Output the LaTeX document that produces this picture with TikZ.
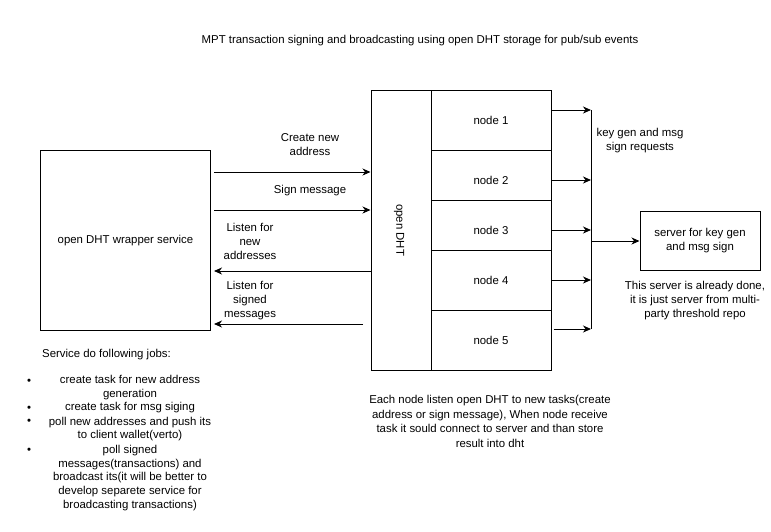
\documentclass[tikz,border=0pt]{standalone}
\usepackage{fontspec}
\setmainfont{Liberation Sans}
\usetikzlibrary{arrows.meta}
\begin{document}
\begin{tikzpicture}[x=1pt,y=-1pt,
  every node/.style={font=\fontsize{11.4pt}{14pt}\selectfont, align=center, inner sep=0pt},
  box/.style={draw, line width=1pt, minimum width=#1},
  conn/.style={line width=1pt, -{Stealth[length=8pt,width=7pt,inset=2.5pt]}},
  plain/.style={line width=1pt}]
\useasboundingbox (0,0) rectangle (771,531);
\fill[white] (0,0) rectangle (771,531);

% title
\node (title) at (420,41) {MPT transaction signing and broadcasting using open DHT storage for pub/sub events};

% wrapper box
\node[box=170, minimum height=180] (wrapper) at (125.5,240.5) {open DHT wrapper service};

% open DHT column
\node[box=60, minimum height=280] (dht) at (401,230) {};
\node[rotate=-90] (dhtlabel) at (399,230) {open DHT};

% node rows
\node[box=120, minimum height=60] (n1) at (491,120) {node 1};
\node[box=120, minimum height=50, label={[yshift=-5pt]center:node 2}] (n2) at (491,175) {};
\node[box=120, minimum height=50, label={[yshift=-5pt]center:node 3}] (n3) at (491,225) {};
\node[box=120, minimum height=60] (n4) at (491,280) {node 4};
\node[box=120, minimum height=60] (n5) at (491,340) {node 5};

% server
\node[box=120, minimum height=59] (server) at (700,240.5) {server for key gen\\and msg sign};

% bus coordinates
\coordinate (b1) at (591,110);
\coordinate (b2) at (591,180);
\coordinate (b3) at (591,230);
\coordinate (b4) at (591,280);
\coordinate (b5) at (591,329);
\coordinate (bs) at (591,241);
\draw[plain] (b1) -- (b5);
\draw[conn] (n1.east |- b1) -- (b1);
\draw[conn] (n2.east |- b2) -- (b2);
\draw[conn] (n3.east |- b3) -- (b3);
\draw[conn] (n4.east |- b4) -- (b4);
\draw[conn] ([xshift=2pt]n5.east |- b5) -- (b5);
\draw[conn] (bs) -- (server.west |- bs);

% left arrows
\coordinate (a1) at (214,172);
\coordinate (a2) at (214,210);
\coordinate (a3) at (214,271);
\coordinate (a4) at (214,324);
\coordinate (a4s) at (363,324);
\draw[conn] (a1) -- (dht.west |- a1);
\draw[conn] (a2) -- (dht.west |- a2);
\draw[conn] (dht.west |- a3) -- (a3);
\draw[conn] (a4s) -- (a4);

% arrow labels
\node (l1) at (310,145) {Create new\\address};
\node (l2) at (310,190.5) {Sign message};
\node (l3) at (250,241) {Listen for\\new\\addresses};
\node (l4) at (250,301) {Listen for\\signed\\messages};

% right side texts
\node (reqs) at (640,141) {key gen and msg\\sign requests};
\node (done) at (695,301) {This server is already done,\\it is just server from multi-\\party threshold repo};

% bottom text
\node[font=\fontsize{11.4pt}{14.4pt}\selectfont] (each) at (490,421.5) {Each node listen open DHT to new tasks(create\\address or sign message), When node receive\\task it sould connect to server and than store\\result into dht};

% service jobs
\node[anchor=west] (jobs) at (42,355) {Service do following jobs:};
\node (d1) at (29,382) {\textbullet};
\node (d2) at (29,409) {\textbullet};
\node (d3) at (29,422) {\textbullet};
\node (d4) at (29,451) {\textbullet};
\node[font=\fontsize{11.4pt}{13.8pt}\selectfont] (j1) at (130,387.5) {create task for new address\\generation};
\node (j2) at (130,408) {create task for msg siging};
\node[font=\fontsize{11.4pt}{13.8pt}\selectfont] (j3) at (130,429) {poll new addresses and push its\\to client wallet(verto)};
\node[font=\fontsize{11.4pt}{13.9pt}\selectfont] (j4) at (130,478) {poll signed\\messages(transactions) and\\broadcast its(it will be better to\\develop separete service for\\broadcasting transactions)};
\end{tikzpicture}
\end{document}
